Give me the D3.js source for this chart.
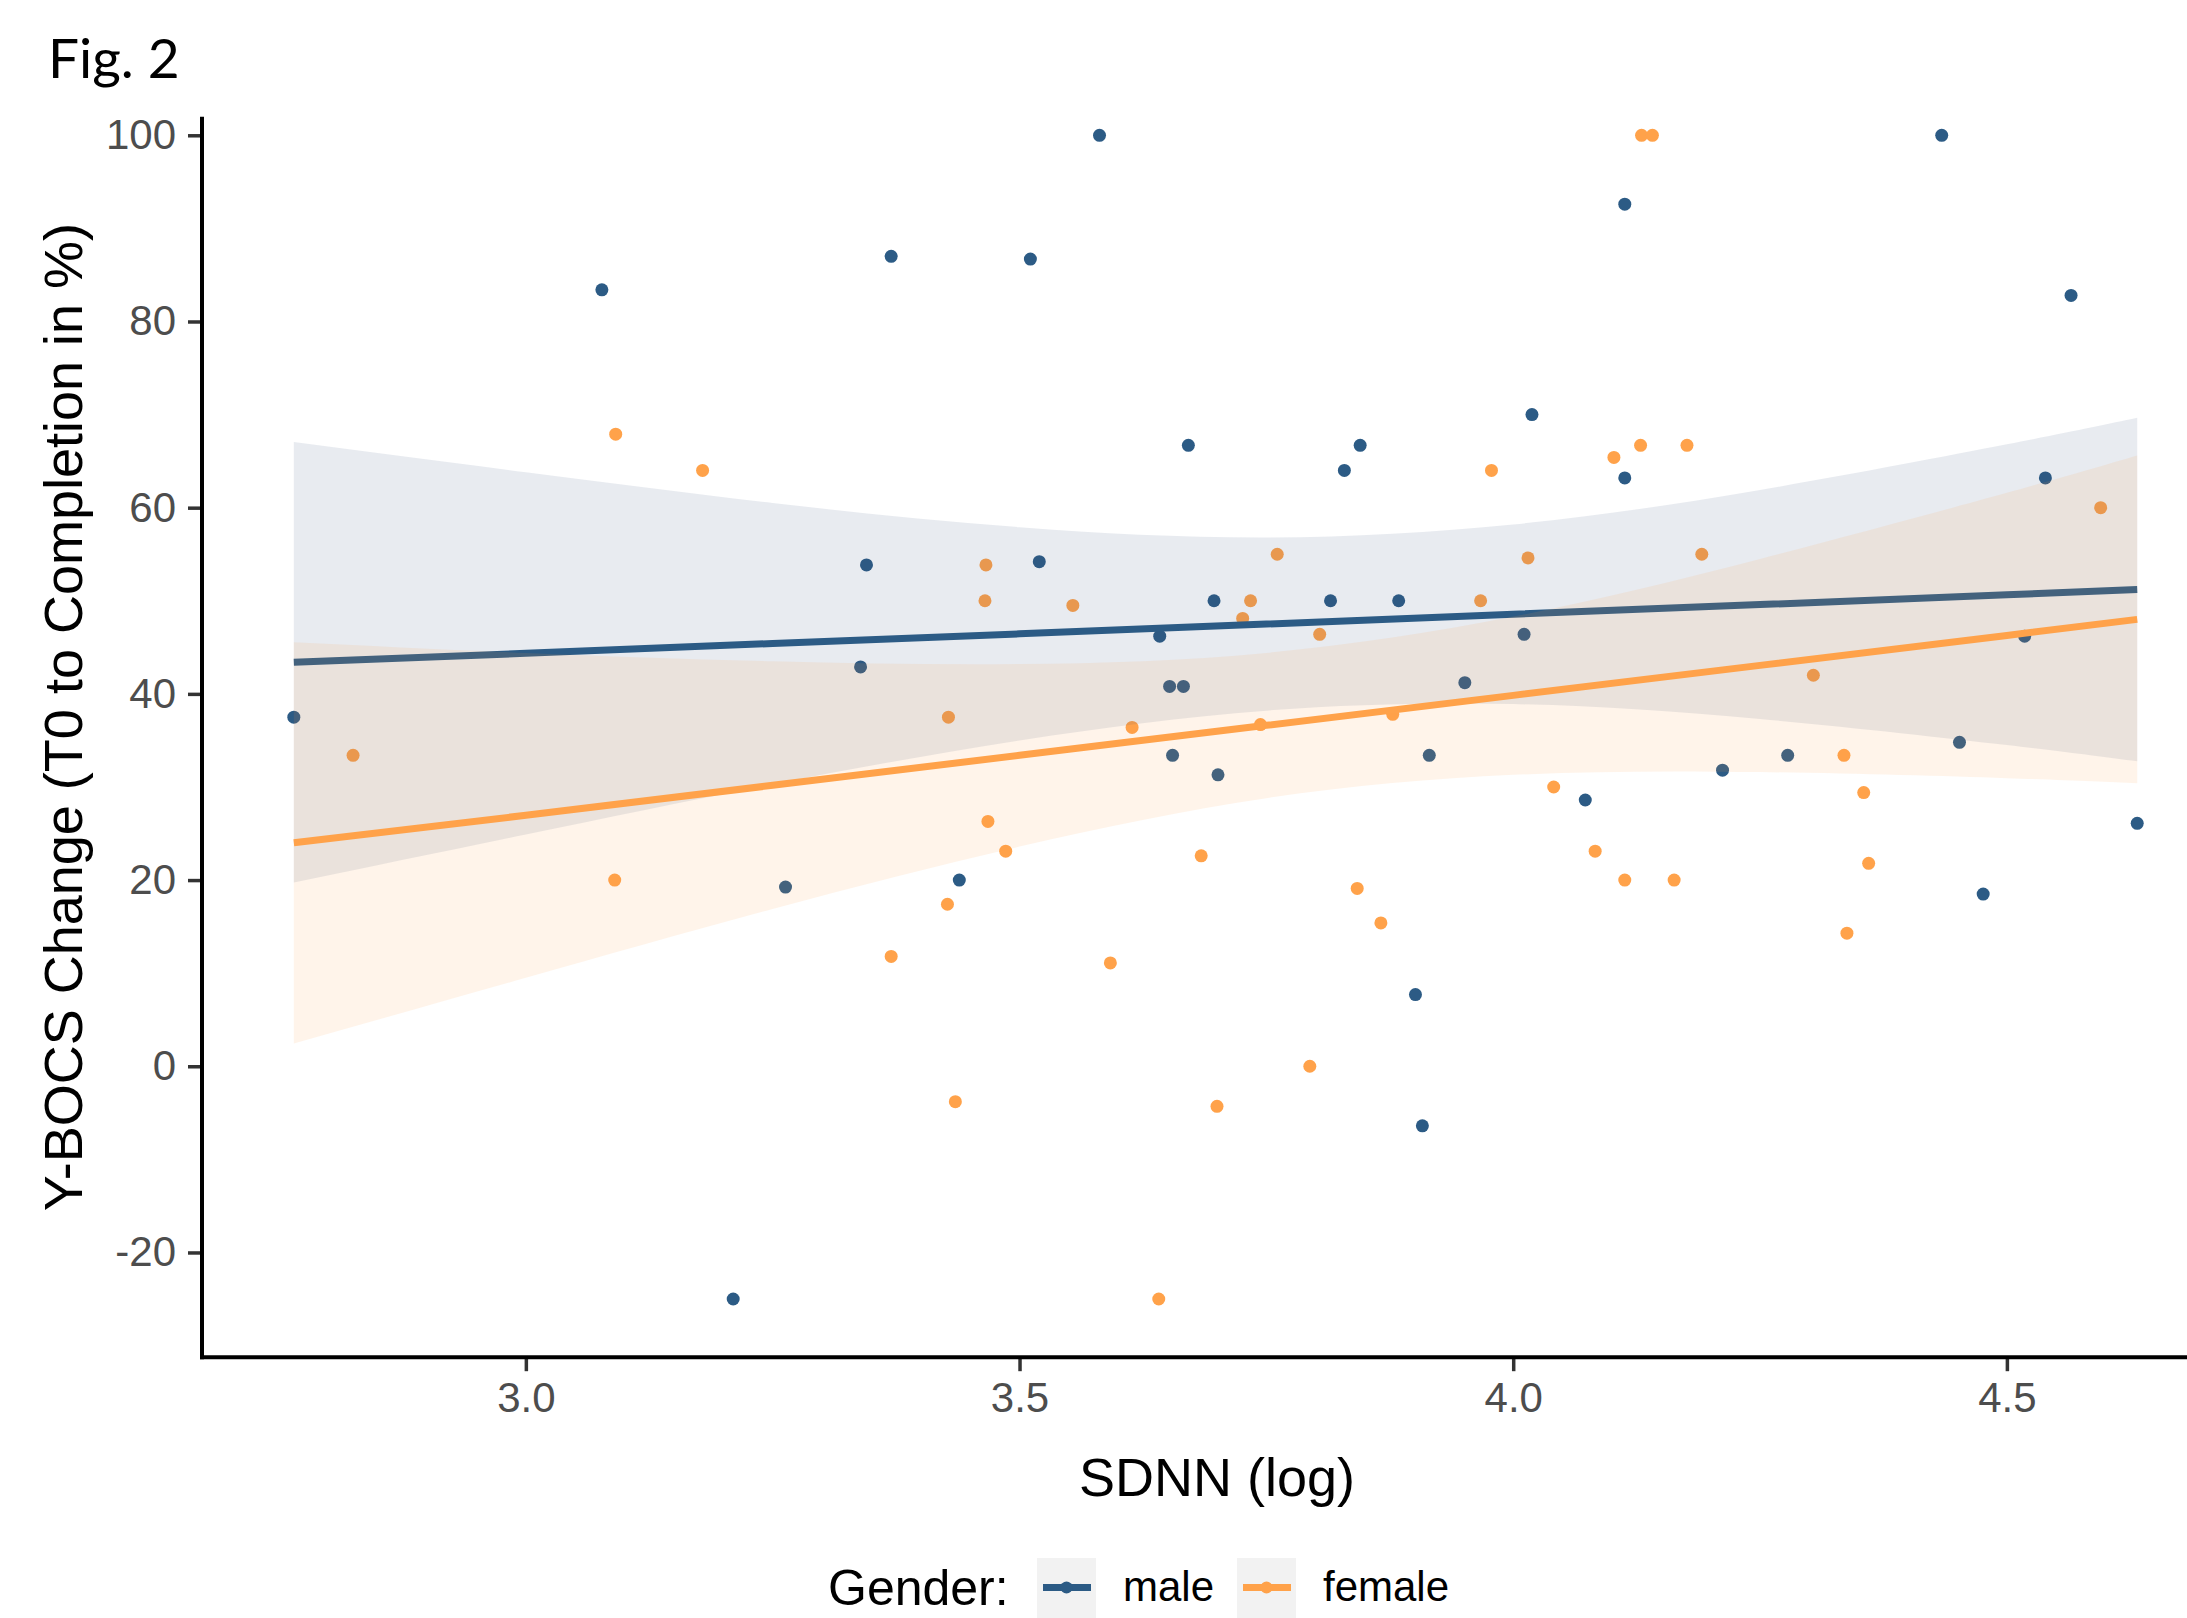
<!DOCTYPE html>
<html>
<head>
<meta charset="utf-8">
<script src="https://cdn.jsdelivr.net/npm/d3@7"></script>
<style>
  body { margin: 0; background: #fff; }
  svg { display: block; }
</style>
</head>
<body>
<div id="chart"></div>
<script>
var WIDTH = 2187;
var HEIGHT = 1618;

// male points (SDNN log, Y-BOCS change %)
const maleX = [2.765, 3.077, 3.210, 3.263, 3.339, 3.345, 3.370, 3.439, 3.511, 3.520,
  3.581, 3.642, 3.652, 3.655, 3.666, 3.671, 3.697, 3.701, 3.815, 3.829,
  3.845, 3.884, 3.901, 3.908, 3.915, 3.951, 4.011, 4.019, 4.073, 4.113,
  4.113, 4.212, 4.278, 4.434, 4.452, 4.476, 4.518, 4.539, 4.565, 4.632];
const maleY = [37.5, 83.4, -25.0, 19.25, 42.9, 53.85, 87.0, 20.0, 86.7, 54.2,
  100, 46.2, 40.8, 33.4, 40.8, 66.7, 50.0, 31.3, 50.0, 64.0,
  66.7, 50.0, 7.7, -6.4, 33.4, 41.2, 46.4, 70.0, 28.6, 92.6,
  63.2, 31.8, 33.4, 100, 34.8, 18.5, 46.2, 63.2, 82.8, 26.1];

// female points
const femaleX = [2.825, 3.090, 3.091, 3.179, 3.370, 3.427, 3.428, 3.435, 3.465, 3.466,
  3.468, 3.486, 3.554, 3.592, 3.614, 3.641, 3.684, 3.700, 3.726, 3.734,
  3.744, 3.761, 3.794, 3.804, 3.842, 3.866, 3.878, 3.967, 3.978, 4.015,
  4.041, 4.083, 4.102, 4.113, 4.129, 4.130, 4.141, 4.163, 4.176, 4.191,
  4.304, 4.335, 4.338, 4.355, 4.360, 4.595];
const femaleY = [33.4, 20.0, 67.9, 64.0, 11.8, 17.4, 37.5, -3.8, 50.0, 53.85,
  26.3, 23.1, 49.5, 11.1, 36.4, -25.0, 22.6, -4.3, 48.1, 50.0,
  36.7, 55.0, 0.0, 46.4, 19.1, 15.4, 37.8, 50.0, 64.0, 54.6,
  30.0, 23.1, 65.4, 20.0, 66.7, 100, 100, 20.0, 66.7, 55.0,
  42.0, 33.4, 14.3, 29.4, 21.8, 60.0];

// linear fits with 95% band, read along the x axis
const smoothX = [2.765, 3.0, 3.25, 3.5, 3.75, 4.0, 4.25, 4.5, 4.632];
const maleFit = [43.4, 44.36, 45.41, 46.45, 47.5, 48.55, 49.59, 50.64, 51.2];
const maleUpper = [67.05, 63.8, 60.5, 57.9, 56.8, 58.2, 61.9, 66.8, 69.65];
const maleLower = [19.75, 24.9, 30.3, 35.0, 38.2, 38.9, 37.3, 34.5, 32.75];
const femaleFit = [24.0, 26.96, 30.18, 33.40, 36.62, 39.84, 43.06, 46.28, 48.0];
const femaleUpper = [45.55, 44.4, 43.5, 43.2, 44.4, 48.3, 54.5, 61.6, 65.6];
const femaleLower = [2.45, 9.5, 16.9, 23.6, 28.8, 31.3, 31.6, 30.95, 30.4];

const xTicks = [3.0, 3.5, 4.0, 4.5];
const yTicks = [-20, 0, 20, 40, 60, 80, 100];
const genders = ["male", "female"];
const colors = { male: "#2C5B85", female: "#FFA24A" };
const bandFill = { male: "#34537A", female: "#FFA24A" };

const x = d3.scaleLinear().domain([2.672, 4.728]).range([202, 2232]);
const y = d3.scaleLinear().domain([-31.25, 106.25]).range([1357.2, 77.1]);

const svg = d3.select("#chart").append("svg")
  .attr("width", WIDTH)
  .attr("height", HEIGHT)
  .style("font-family", "'Liberation Sans', Arial, sans-serif");

svg.append("rect").attr("width", WIDTH).attr("height", HEIGHT).attr("fill", "#fff");

// points go first, the bands are painted on top of them (as in ggplot)
const points = genders.flatMap(g => {
  const xs = g === "male" ? maleX : femaleX;
  const ys = g === "male" ? maleY : femaleY;
  return xs.map((v, i) => ({ g: g, x: v, y: ys[i] }));
});

svg.append("g")
  .selectAll("circle")
  .data(points)
  .join("circle")
    .attr("cx", d => x(d.x))
    .attr("cy", d => y(d.y))
    .attr("r", 6.5)
    .attr("fill", d => colors[d.g]);

const smooth = {
  male: smoothX.map((v, i) => ({ x: v, fit: maleFit[i], lo: maleLower[i], hi: maleUpper[i] })),
  female: smoothX.map((v, i) => ({ x: v, fit: femaleFit[i], lo: femaleLower[i], hi: femaleUpper[i] }))
};

const area = d3.area()
  .x(d => x(d.x))
  .y0(d => y(d.lo))
  .y1(d => y(d.hi))
  .curve(d3.curveNatural);

const line = d3.line()
  .x(d => x(d.x))
  .y(d => y(d.fit));

genders.forEach(g => {
  svg.append("path")
    .datum(smooth[g])
    .attr("d", area)
    .attr("fill", bandFill[g])
    .attr("fill-opacity", 0.115);

  svg.append("path")
    .datum(smooth[g])
    .attr("d", line)
    .attr("fill", "none")
    .attr("stroke", colors[g])
    .attr("stroke-width", 7);
});

// axes
const yAxis = svg.append("g")
  .attr("transform", `translate(${x.range()[0]},0)`)
  .call(d3.axisLeft(y).tickValues(yTicks).tickSize(14).tickPadding(12).tickFormat(d => String(d)));

const xAxis = svg.append("g")
  .attr("transform", `translate(0,${y.range()[0]})`)
  .call(d3.axisBottom(x).tickValues(xTicks).tickSize(14).tickPadding(11).tickFormat(d3.format(".1f")));

[xAxis, yAxis].forEach(a => {
  a.select(".domain").remove();
  a.selectAll(".tick line").attr("stroke", "#333").attr("stroke-width", 3.5);
  a.selectAll(".tick text")
    .attr("fill", "#4d4d4d")
    .style("font-size", "42px")
    .style("font-family", "'Liberation Sans', Arial, sans-serif");
});

// axis lines (the top of the y axis is cut just above 100)
svg.append("line")
  .attr("x1", x.range()[0]).attr("x2", x.range()[0])
  .attr("y1", y(102)).attr("y2", y.range()[0] + 2)
  .attr("stroke", "#000").attr("stroke-width", 4);

svg.append("line")
  .attr("x1", x.range()[0] - 2).attr("x2", WIDTH)
  .attr("y1", y.range()[0]).attr("y2", y.range()[0])
  .attr("stroke", "#000").attr("stroke-width", 4);

// titles
svg.append("text")
  .attr("x", (x.range()[0] + x.range()[1]) / 2)
  .attr("y", 1496)
  .attr("text-anchor", "middle")
  .style("font-size", "54px")
  .text("SDNN (log)");

svg.append("text")
  .attr("transform", `translate(82,${(y.range()[0] + y.range()[1]) / 2}) rotate(-90)`)
  .attr("text-anchor", "middle")
  .style("font-size", "54px")
  .text("Y-BOCS Change (T0 to Completion in %)");

svg.append("text")
  .attr("x", 48)
  .attr("y", 78)
  .style("font-family", "Lato, 'Open Sans', sans-serif")
  .style("font-size", "55px")
  .text("Fig. 2");

// legend
const legend = svg.append("g");

legend.append("text")
  .attr("x", 828)
  .attr("y", 1605)
  .style("font-size", "50px")
  .text("Gender:");

const keyX = { male: 1037, female: 1237 };

genders.forEach(g => {
  const k = legend.append("g").attr("transform", `translate(${keyX[g]},1558)`);
  k.append("rect")
    .attr("width", 59).attr("height", 60)
    .attr("fill", "#f2f2f2");
  k.append("line")
    .attr("x1", 6).attr("x2", 54)
    .attr("y1", 29.5).attr("y2", 29.5)
    .attr("stroke", colors[g]).attr("stroke-width", 7);
  k.append("circle")
    .attr("cx", 29.5).attr("cy", 29.5).attr("r", 6)
    .attr("fill", colors[g]);
  k.append("text")
    .attr("x", 86)
    .attr("y", 43)
    .style("font-size", "42px")
    .text(g);
});
</script>
</body>
</html>
